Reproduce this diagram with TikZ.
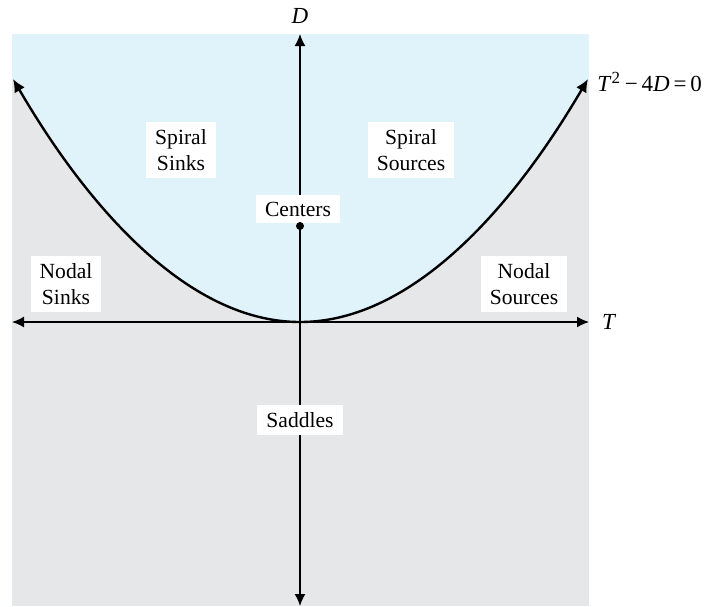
\documentclass[tikz,border=0pt]{standalone}
\usepackage{fontspec}
\setmainfont{Liberation Serif}
\usepackage{xcolor}
\usetikzlibrary{arrows.meta}

\definecolor{spiralblue}{RGB}{224,243,251}
\definecolor{nodegray}{RGB}{230,231,232}

\begin{document}
\begin{tikzpicture}[
  x=0.5pt, y=-0.5pt,
  every node/.style={font=\fontsize{10.8}{13}\selectfont},
  region/.style={fill=white,align=center,inner xsep=4.5pt,inner ysep=3.5pt},
  axis/.style={{Latex[length=6pt,width=5.5pt]}-{Latex[length=6pt,width=5.5pt]},line width=0.75pt},
  curve/.style={{Latex[length=6.5pt,width=6pt]}-{Latex[length=6.5pt,width=6pt]},line width=1.2pt},
]
\useasboundingbox (0,0) rectangle (706,606);

% background regions
\fill[nodegray]   (12,34) rectangle (589,606);
\fill[spiralblue] (12,34) -- (12,80) parabola bend (300,322) (589,80) -- (589,34) -- cycle;

% axes
\coordinate (tl) at (12,322);
\coordinate (tr) at (589,322);
\coordinate (dt) at (300,34);
\coordinate (db) at (300,606);
\draw[axis] (tl) -- (tr);
\draw[axis] (db) -- (dt);
\node[anchor=west,font=\fontsize{11.5}{13}\selectfont\itshape] (tlab) at (595,322) {T};
\node[font=\fontsize{11.5}{13}\selectfont\itshape] (dlab) at (300,16) {D};

% T^2 - 4D = 0
\coordinate (pl) at (13,79);
\coordinate (pv) at (300,322);
\coordinate (pr) at (588,79);
\draw[curve] (pl) parabola bend (pv) (pr);
\node[anchor=west,inner sep=1pt,font=\fontsize{11.5}{13}\selectfont] (eq) at (595,82)
  {\textit{T}\textsuperscript{\fontsize{8.5}{9}\selectfont 2}\,−\,4\textit{D}\,=\,0};

% labels
\node[region] (ssink) at (181,150) {Spiral\\Sinks};
\node[region] (ssrc)  at (411,150) {Spiral\\Sources};
\node[region] (ctr)   at (298,209) {Centers};
\fill (300,226) circle (2pt);
\node[region] (nsink) at (66,284)  {Nodal\\Sinks};
\node[region] (nsrc)  at (524,284) {Nodal\\Sources};
\node[region] (sad)   at (300,420) {Saddles};
\end{tikzpicture}
\end{document}
